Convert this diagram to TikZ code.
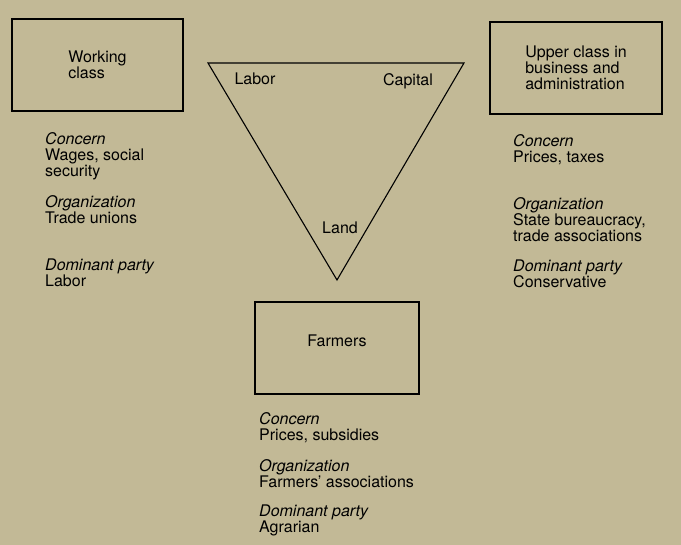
\documentclass[tikz,border=0pt]{standalone}
\usepackage{fontspec}
\setmainfont{TeX Gyre Heros}
\definecolor{paper}{RGB}{194,185,150}
\begin{document}
\begin{tikzpicture}[x=1pt,y=-1pt,
    every node/.style={font=\fontsize{16}{16}\selectfont,inner sep=0pt},
    class box/.style={draw,line width=1.3pt,align=left},
    notes/.style={anchor=north west,align=left},
    corner/.style={anchor=base}]
    \fill[paper] (0,0) rectangle (681,545);
    \useasboundingbox (0,0) rectangle (681,545);

    \node[class box,minimum width=171,minimum height=92] at (97.5,65) (workers) {Working\\class};
    \node[class box,minimum width=172,minimum height=92] at (576,68) (upper) {Upper class in\\business and\\administration};
    \node[class box,minimum width=164,minimum height=92,
        label={[yshift=7pt]center:Farmers}] at (337,348) (farmers) {};

    \coordinate (labor) at (208,63);
    \coordinate (capital) at (464,63);
    \coordinate (land) at (337,280);
    \draw[line width=1.1pt,line join=miter] (labor) -- (capital) -- (land) -- cycle;
    \node[corner] at (255,85) (laborlabel) {Labor};
    \node[corner] at (408,86) (capitallabel) {Capital};
    \node[corner] at (340,234) (landlabel) {Land};

    \node[notes] at (45,132) (wconcern) {\textit{Concern}\\Wages, social\\security};
    \node[notes] at (45,195) (worg) {\textit{Organization}\\Trade unions};
    \node[notes] at (45,259) (wparty) {\textit{Dominant party}\\Labor};

    \node[notes] at (513,134) (uconcern) {\textit{Concern}\\Prices, taxes};
    \node[notes] at (513,197) (uorg) {\textit{Organization}\\State bureaucracy,\\trade associations};
    \node[notes] at (513,260) (uparty) {\textit{Dominant party}\\Conservative};

    \node[notes] at (259,412) (fconcern) {\textit{Concern}\\Prices, subsidies};
    \node[notes] at (259,459) (forg) {\textit{Organization}\\Farmers' associations};
    \node[notes] at (259,505) (fparty) {\textit{Dominant party}\\Agrarian};
\end{tikzpicture}
\end{document}
